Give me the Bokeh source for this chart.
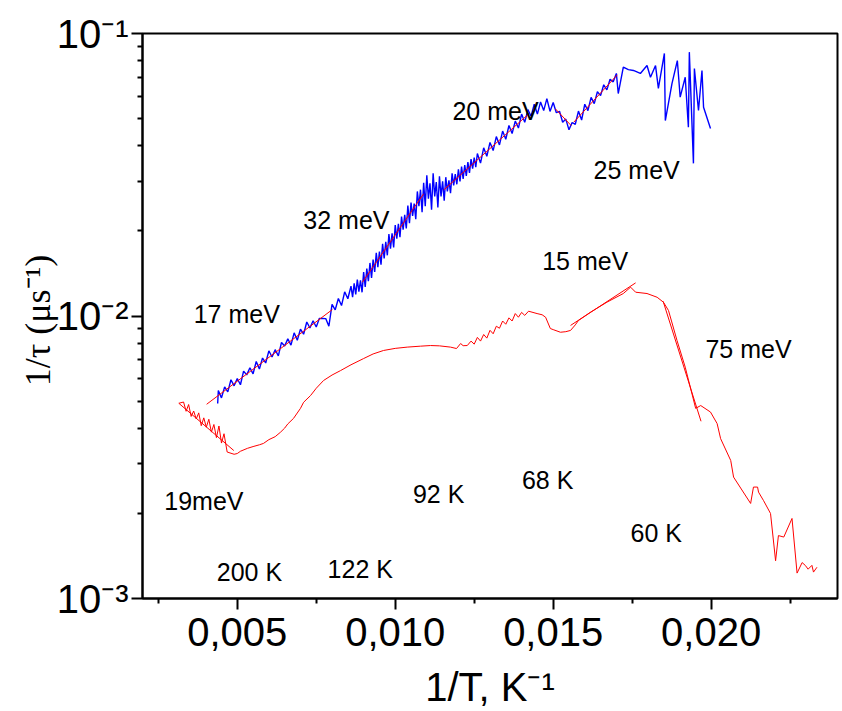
from bokeh.plotting import figure
from bokeh.models import Range1d, FixedTicker
from bokeh.core.properties import value
from bokeh.embed import file_html
from bokeh.resources import INLINE

# ---------------- data ----------------
blue_x = [0.00438, 0.0044, 0.0045, 0.0046, 0.0047, 0.0048, 0.0049, 0.0050, 0.0051, 0.0052,
          0.0053, 0.0054, 0.0055, 0.0056, 0.0057, 0.0058, 0.0059, 0.0060, 0.0061, 0.0062,
          0.0063, 0.0064, 0.0065, 0.0066, 0.0067, 0.0068, 0.0069, 0.0070, 0.0071, 0.0072,
          0.0073, 0.0074, 0.0075, 0.0076, 0.0077, 0.0078, 0.0079, 0.0080, 0.0081, 0.0082,
          0.0083, 0.0084, 0.0085, 0.0086, 0.00865, 0.0087, 0.00875, 0.0088, 0.00885, 0.0089,
          0.00895, 0.0090, 0.00905, 0.0091, 0.00915, 0.0092, 0.00925, 0.0093, 0.00935, 0.0094,
          0.00945, 0.0095, 0.00955, 0.0096, 0.00965, 0.0097, 0.00975, 0.0098, 0.00985, 0.0099,
          0.00995, 0.0100, 0.01005, 0.0101, 0.01015, 0.0102, 0.01025, 0.0103, 0.01035, 0.0104,
          0.01045, 0.0105, 0.01055, 0.0106, 0.01065, 0.0107, 0.01075, 0.0108, 0.01085, 0.0109,
          0.01095, 0.0110, 0.01105, 0.0111, 0.01115, 0.0112, 0.01125, 0.0113, 0.01135, 0.0114,
          0.01145, 0.0115, 0.01155, 0.0116, 0.01165, 0.0117, 0.01175, 0.0118, 0.01185, 0.0119,
          0.01195, 0.0120, 0.01205, 0.0121, 0.01215, 0.0122, 0.01225, 0.0123, 0.01235, 0.0124,
          0.01245, 0.0125, 0.01255, 0.0126, 0.0127, 0.0128, 0.0129, 0.0130, 0.0131, 0.0132,
          0.0133, 0.0134, 0.0135, 0.0136, 0.0137, 0.0138, 0.0139, 0.0140, 0.0141, 0.0142,
          0.0143, 0.0144, 0.0145, 0.0146, 0.0147, 0.0148, 0.0149, 0.0150, 0.0151, 0.0152,
          0.0153, 0.0154, 0.0155, 0.0156, 0.0157, 0.0158, 0.0159, 0.0160, 0.0161, 0.0162,
          0.0163, 0.0164, 0.0165, 0.0166, 0.0167, 0.0168, 0.0169, 0.0170,
          0.01706, 0.01722, 0.01738, 0.01754, 0.01776, 0.01797, 0.01808, 0.01824, 0.01833,
          0.01852, 0.01855, 0.01876, 0.01893, 0.01902, 0.01918, 0.01928, 0.01931, 0.01944,
          0.01947, 0.01960, 0.01971, 0.01976, 0.01998]
blue_y = [0.00490, 0.00545, 0.00513, 0.00561, 0.00539, 0.00595, 0.00566, 0.00601, 0.00571, 0.00638,
          0.00619, 0.00656, 0.00624, 0.00690, 0.00649, 0.00710, 0.00682, 0.00753, 0.00716, 0.00760,
          0.00722, 0.00806, 0.00783, 0.00830, 0.00789, 0.00872, 0.00821, 0.00898, 0.00862, 0.00952,
          0.00907, 0.00962, 0.00914, 0.00981, 0.00980, 0.00979, 0.00920, 0.01100, 0.01051, 0.01153,
          0.01089, 0.01218, 0.01151, 0.01275, 0.01167, 0.01304, 0.01193, 0.01346, 0.01220, 0.01338,
          0.01213, 0.01431, 0.01267, 0.01471, 0.01329, 0.01541, 0.01364, 0.01584, 0.01431, 0.01675,
          0.01490, 0.01690, 0.01520, 0.01800, 0.01600, 0.01830, 0.01640, 0.01950, 0.01730, 0.01960,
          0.01750, 0.02100, 0.01880, 0.02120, 0.01900, 0.02250, 0.02020, 0.02280, 0.02040, 0.02460,
          0.02129, 0.02520, 0.02260, 0.02500, 0.02200, 0.02760, 0.02450, 0.02800, 0.02330, 0.02960,
          0.02448, 0.03150, 0.02600, 0.02950, 0.02380, 0.03200, 0.02650, 0.02980, 0.02420, 0.03120,
          0.02650, 0.03000, 0.02560, 0.03100, 0.02760, 0.03020, 0.02720, 0.03200, 0.02900, 0.03180,
          0.02926, 0.03307, 0.02993, 0.03381, 0.03059, 0.03423, 0.03135, 0.03507, 0.03211, 0.03591,
          0.03322, 0.03640, 0.03363, 0.03759, 0.03477, 0.03938, 0.03677, 0.04116, 0.03850, 0.04316,
          0.04032, 0.04515, 0.04224, 0.04725, 0.04426, 0.04898, 0.04627, 0.05187, 0.04848, 0.05377,
          0.05093, 0.05618, 0.05184, 0.05723, 0.05335, 0.05883, 0.05299, 0.05699, 0.05243, 0.05305,
          0.04850, 0.04978, 0.04560, 0.04841, 0.04772, 0.05313, 0.04940, 0.05618, 0.05335, 0.05943,
          0.05645, 0.06219, 0.06027, 0.06583, 0.06315, 0.06891, 0.06742, 0.07222,
          0.0613, 0.0760, 0.0745, 0.0740, 0.0722, 0.0770, 0.0700, 0.0770, 0.0639,
          0.0850, 0.0492, 0.0665, 0.0802, 0.0595, 0.0700, 0.0466, 0.0859, 0.0347,
          0.0752, 0.0534, 0.0740, 0.0548, 0.0461]

red_x = [0.00315, 0.0033, 0.00338, 0.00346, 0.00354, 0.00362, 0.0037, 0.00378, 0.00386, 0.00394,
         0.00402, 0.0041, 0.00418, 0.00426, 0.00434, 0.00442, 0.0045, 0.00458, 0.00468, 0.0049,
         0.0050, 0.0051, 0.00532, 0.0055, 0.0057, 0.00583, 0.0060, 0.0062, 0.00637, 0.0065,
         0.0066, 0.00678, 0.0070, 0.0071, 0.00732, 0.0075, 0.00773, 0.0080, 0.00827, 0.0086,
         0.0090, 0.0093, 0.00963, 0.0100, 0.01038, 0.0108, 0.01112, 0.0114, 0.01175, 0.01194,
         0.01207, 0.01215, 0.01228, 0.0124, 0.0125, 0.0126, 0.0127, 0.0128, 0.0129, 0.0130,
         0.0131, 0.0132, 0.0133, 0.0134, 0.0135, 0.0136, 0.0137, 0.0138, 0.0139, 0.0140,
         0.0141, 0.01422, 0.01449, 0.01465, 0.01476, 0.01491, 0.0150, 0.01523, 0.0154, 0.01555,
         0.0157, 0.0158, 0.01618, 0.0167, 0.01722, 0.01745, 0.01761, 0.01797, 0.01829, 0.01849,
         0.01865, 0.01892, 0.01918, 0.01951, 0.01967, 0.01998, 0.02019, 0.0203, 0.02062, 0.02071,
         0.02125, 0.02134, 0.02147, 0.0215, 0.02166, 0.02188, 0.02204, 0.02213, 0.0223, 0.02256,
         0.02272, 0.02288, 0.02298, 0.02307, 0.02319, 0.02324, 0.02335]
red_y = [0.00491, 0.00496, 0.00460, 0.00486, 0.00441, 0.00461, 0.00432, 0.00454, 0.00409, 0.00436,
         0.00404, 0.00431, 0.00388, 0.00413, 0.00371, 0.00408, 0.00355, 0.00383, 0.00330, 0.00324,
         0.00326, 0.00332, 0.00340, 0.00345, 0.00350, 0.00354, 0.00365, 0.00374, 0.00388, 0.00401,
         0.00415, 0.00434, 0.00471, 0.00495, 0.00523, 0.00555, 0.00591, 0.00618, 0.00641, 0.00672,
         0.00707, 0.00734, 0.00755, 0.00768, 0.00776, 0.00782, 0.00786, 0.00784, 0.00776, 0.00767,
         0.00799, 0.00785, 0.00786, 0.00815, 0.00795, 0.00840, 0.00815, 0.00860, 0.00835, 0.00890,
         0.00865, 0.00920, 0.00905, 0.00960, 0.00935, 0.00985, 0.00960, 0.01020, 0.00990, 0.01030,
         0.01005, 0.01040, 0.01020, 0.01010, 0.00990, 0.00903, 0.00895, 0.00876, 0.00880, 0.00889,
         0.00930, 0.00964, 0.01031, 0.01119, 0.01201, 0.01265, 0.01214, 0.01201, 0.01165, 0.01119,
         0.01046, 0.00819, 0.00659, 0.00471, 0.00482, 0.00457, 0.00416, 0.00368, 0.00308, 0.00269,
         0.00217, 0.00248, 0.00248, 0.00238, 0.00222, 0.00200, 0.00136, 0.00167, 0.00165, 0.00192,
         0.00123, 0.00134, 0.00131, 0.00127, 0.00131, 0.00124, 0.00129]

# straight-line fits (start/end of each)
fit_xs = [[0.00403, 0.00801], [0.00896, 0.0109], [0.01154, 0.01423], [0.01507, 0.01557],
          [0.01565, 0.01703], [0.00315, 0.00489], [0.01555, 0.01761], [0.01848, 0.01968]]
fit_ys = [[0.00487, 0.01054], [0.01317, 0.02708], [0.02797, 0.05197], [0.0541, 0.0472],
          [0.0485, 0.0714], [0.00491, 0.00334], [0.00926, 0.0131], [0.01128, 0.00424]]

ann_text = ["17 meV", "32 meV", "20 meV", "25 meV", "15 meV", "75 meV", "19meV",
            "200 K", "122 K", "92 K", "68 K", "60 K"]
ann_x = [0.00362, 0.00709, 0.01181, 0.01628, 0.01465, 0.01982, 0.00269,
         0.00435, 0.00786, 0.01056, 0.01401, 0.01745]
ann_y = [0.0102, 0.0218, 0.0530, 0.0330, 0.01572, 0.00767, 0.00222,
         0.001246, 0.001277, 0.002353, 0.002617, 0.001699]

x_ticks = [0.005, 0.010, 0.015, 0.020]
x_tick_labels = ["0,005", "0,010", "0,015", "0,020"]
x_minor = [0.0025, 0.0075, 0.0125, 0.0175, 0.0225]
y_ticks = [0.001, 0.01, 0.1]
y_tick_labels = ["10\u207b\u00b3", "10\u207b\u00b2", "10\u207b\u00b9"]
y_minor = [0.002, 0.003, 0.004, 0.005, 0.006, 0.007, 0.008, 0.009,
           0.02, 0.03, 0.04, 0.05, 0.06, 0.07, 0.08, 0.09]

assert len(blue_x) == len(blue_y)
assert len(red_x) == len(red_y)

# ---------------- figure ----------------
p = figure(width=842, height=711, y_axis_type="log",
           x_range=Range1d(0.002, 0.024), y_range=Range1d(0.001, 0.1),
           output_backend="svg", toolbar_location=None,
           min_border_left=142, min_border_right=5, min_border_top=33, min_border_bottom=113)
p.grid.visible = False
p.background_fill_color = "white"
p.border_fill_color = "white"
p.outline_line_color = "black"
p.outline_line_width = 2

p.line(blue_x, blue_y, line_color="#0000ff", line_width=1.4)
p.line(red_x, red_y, line_color="#ff0000", line_width=1)
p.multi_line(fit_xs, fit_ys, line_color="#ff0000", line_width=1)

p.text(x=ann_x, y=ann_y, text=ann_text, text_font=value("Liberation Sans"),
       text_font_size="25px", text_color="black", text_align="left",
       text_baseline="alphabetic")

for ax in (p.xaxis[0], p.yaxis[0]):
    ax.axis_line_width = 2
    ax.axis_line_color = "black"
    ax.major_tick_line_width = 2
    ax.minor_tick_line_width = 2
    ax.major_tick_in = 0
    ax.major_tick_out = 11
    ax.minor_tick_in = 0
    ax.minor_tick_out = 5
    ax.major_label_text_font = "Liberation Sans"
    ax.major_label_text_font_size = "40px"
    ax.major_label_text_color = "black"
    ax.axis_label_text_font_style = "normal"
    ax.axis_label_text_color = "black"

xa = p.xaxis[0]
xa.ticker = FixedTicker(ticks=x_ticks, minor_ticks=x_minor)
xa.major_label_overrides = dict(zip(x_ticks, x_tick_labels))
xa.major_label_standoff = 8
xa.axis_label = "1/T, K\u207b\u00b9"
xa.axis_label_text_font = "Liberation Sans"
xa.axis_label_text_font_size = "40px"
xa.axis_label_standoff = 16

ya = p.yaxis[0]
ya.ticker = FixedTicker(ticks=y_ticks, minor_ticks=y_minor)
ya.major_label_overrides = dict(zip(y_ticks, y_tick_labels))
ya.major_label_standoff = 3
ya.axis_label = "1/\u03c4  (\u03bcs\u207b\u00b9)"
ya.axis_label_text_font = "Liberation Serif"
ya.axis_label_text_font_size = "36px"
ya.axis_label_standoff = -4

open("out.html", "w").write(file_html(p, INLINE))
